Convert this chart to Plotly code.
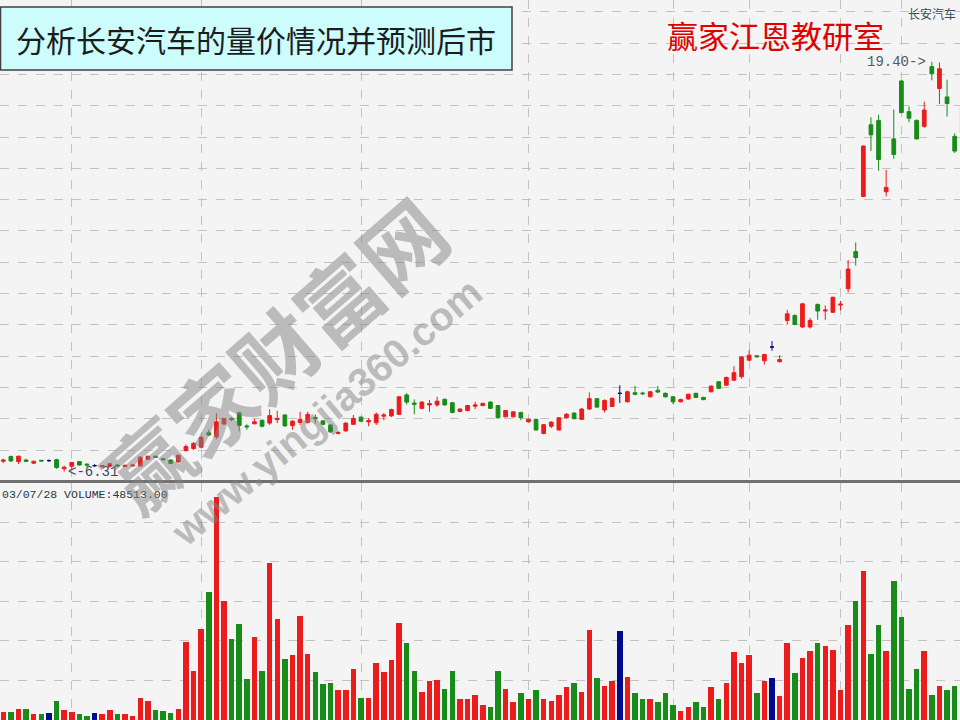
import plotly.graph_objects as go

# ---------------- data ----------------
opens = [6.64, 6.79, 6.63, 6.68, 6.58, 6.67, 6.66, 6.69, 6.40, 6.48,
         6.63, 6.55, 6.50, 6.47, 6.48, 6.52, 6.47, 6.49, 6.49, 6.70,
         6.80, 6.72, 6.68, 6.62, 6.98, 7.05, 7.09, 7.55, 7.42, 7.83,
         8.01, 8.19, 7.77, 7.84, 7.95, 7.86, 7.97, 8.12, 7.78, 7.88,
         7.88, 8.04, 7.93, 7.80, 7.53, 7.61, 7.82, 8.05, 7.90, 7.87,
         8.08, 8.09, 8.14, 8.76, 8.50, 8.33, 8.44, 8.44, 8.62, 8.51,
         8.23, 8.26, 8.40, 8.42, 8.53, 8.42, 8.06, 8.06, 8.20, 7.90,
         7.98, 7.53, 7.76, 7.64, 8.03, 8.18, 7.98, 8.31, 8.64, 8.28,
         8.39, 8.81, 8.54, 8.83, 8.82, 8.70, 8.91, 8.81, 8.70, 8.54,
         8.63, 8.81, 8.68, 8.86, 9.18, 9.07, 9.23, 9.34, 9.87, 10.01,
         9.85, 10.29, 9.82, 11.14, 11.30, 10.93, 10.93, 11.65, 11.44, 11.40,
         11.63, 12.15, 13.34, 15.10, 17.39, 17.53, 15.25, 16.94, 18.79, 17.81,
         17.53, 17.34, 19.25, 18.55, 18.28, 17.02, 17.13]
highs = [6.72, 6.82, 6.82, 6.72, 6.66, 6.68, 6.70, 6.72, 6.50, 6.62,
         6.65, 6.57, 6.55, 6.52, 6.58, 6.54, 6.53, 6.54, 6.80, 6.82,
         6.82, 6.74, 6.70, 6.85, 7.18, 7.26, 7.45, 7.65, 8.17, 8.03,
         8.05, 8.22, 7.82, 8.00, 7.97, 8.30, 8.25, 8.14, 7.95, 8.22,
         8.22, 8.13, 7.96, 7.83, 7.60, 7.88, 8.12, 8.07, 8.02, 8.20,
         8.18, 8.32, 8.72, 8.82, 8.62, 8.56, 8.60, 8.70, 8.64, 8.53,
         8.33, 8.44, 8.54, 8.51, 8.56, 8.44, 8.28, 8.24, 8.22, 8.00,
         8.00, 7.83, 7.92, 8.05, 8.18, 8.20, 8.33, 8.84, 8.66, 8.62,
         8.68, 9.07, 8.90, 9.05, 8.86, 8.88, 9.05, 8.84, 8.72, 8.64,
         8.80, 8.83, 8.70, 9.06, 9.20, 9.34, 9.68, 9.99, 10.19, 10.03,
         10.07, 10.48, 10.03, 11.48, 11.33, 11.70, 11.22, 11.68, 11.62, 11.90,
         11.76, 13.07, 13.63, 16.73, 17.63, 17.71, 15.95, 17.88, 18.81, 17.98,
         17.56, 18.13, 19.40, 19.38, 18.83, 17.12, 18.10]
lows = [6.58, 6.62, 6.55, 6.62, 6.56, 6.63, 6.62, 6.40, 6.31, 6.40,
        6.50, 6.45, 6.46, 6.44, 6.44, 6.47, 6.45, 6.47, 6.47, 6.68,
        6.75, 6.67, 6.55, 6.60, 6.95, 7.00, 7.05, 7.45, 7.35, 7.80,
        7.92, 7.60, 7.65, 7.82, 7.72, 7.80, 7.86, 7.74, 7.65, 7.80,
        7.85, 7.85, 7.79, 7.55, 7.50, 7.58, 7.80, 7.90, 7.76, 7.80,
        7.95, 8.05, 8.12, 8.45, 8.14, 8.30, 8.22, 8.38, 8.42, 8.17,
        8.21, 8.24, 8.31, 8.40, 8.31, 8.00, 8.04, 8.04, 7.95, 7.88,
        7.62, 7.50, 7.70, 7.62, 8.00, 7.98, 7.96, 8.28, 8.35, 8.20,
        8.37, 8.50, 8.52, 8.75, 8.75, 8.68, 8.83, 8.68, 8.47, 8.52,
        8.61, 8.66, 8.59, 8.84, 8.95, 9.05, 9.21, 9.28, 9.85, 9.96,
        9.73, 10.17, 9.80, 11.00, 10.99, 10.90, 10.88, 11.16, 11.16, 11.38,
        11.46, 12.04, 12.89, 15.08, 16.55, 15.92, 15.10, 16.30, 17.76, 17.47,
        16.92, 17.29, 18.81, 18.05, 17.65, 16.49, 17.05]
closes = [6.68, 6.65, 6.80, 6.64, 6.64, 6.65, 6.66, 6.44, 6.45, 6.60,
          6.52, 6.52, 6.50, 6.50, 6.56, 6.49, 6.51, 6.52, 6.77, 6.80,
          6.77, 6.69, 6.57, 6.83, 7.11, 7.21, 7.40, 7.48, 7.90, 8.00,
          7.97, 7.78, 7.74, 7.90, 7.76, 8.10, 8.01, 7.77, 7.92, 7.98,
          8.14, 8.00, 7.82, 7.58, 7.56, 7.86, 8.01, 7.92, 7.94, 8.14,
          8.12, 8.29, 8.70, 8.53, 8.46, 8.53, 8.48, 8.56, 8.44, 8.20,
          8.31, 8.42, 8.44, 8.49, 8.33, 8.03, 8.26, 8.22, 8.03, 7.98,
          7.64, 7.81, 7.89, 8.03, 8.14, 8.00, 8.31, 8.64, 8.37, 8.58,
          8.65, 8.81, 8.86, 8.78, 8.80, 8.86, 8.85, 8.70, 8.54, 8.61,
          8.78, 8.68, 8.61, 9.04, 8.97, 9.32, 9.47, 9.97, 10.03, 9.98,
          10.05, 10.29, 9.89, 11.35, 11.01, 11.67, 11.14, 11.44, 11.47, 11.88,
          11.66, 12.78, 13.15, 16.71, 17.07, 16.28, 15.39, 16.44, 17.78, 17.60,
          16.94, 17.86, 19.02, 19.18, 18.07, 16.55, 17.97]
# candle / volume colour class: r = up, g = down, b = flat
colors = list("rgrgrgbgrr" "ggbrrgrrrr" "gggrrrrgrr" "gggrgrrgrr"
              "rgggrrrgrr" "rrrggrrrgg" "rrrrggrrgr" "grrrrgrrgr"
              "rbrggrgggr" "rggrgrrrrg" "rbrrgrrgrr" "rrgrggrggg"
              "grgrggr")
volumes = [0.19, 0.19, 0.29, 0.29, 0.15, 0.14, 0.18, 0.49, 0.25, 0.19,
           0.15, 0.11, 0.18, 0.14, 0.25, 0.14, 0.14, 0.11, 0.56, 0.49,
           0.25, 0.22, 0.18, 0.29, 1.98, 1.24, 2.31, 3.24, 5.62, 3.01,
           2.05, 2.43, 1.03, 2.10, 1.24, 3.97, 2.56, 1.55, 1.63, 2.63,
           1.67, 1.21, 0.91, 0.94, 0.75, 0.75, 1.29, 0.56, 0.56, 1.44,
           1.20, 1.52, 2.44, 1.94, 1.25, 0.71, 0.98, 1.02, 0.79, 1.25,
           0.52, 0.52, 0.64, 0.37, 0.33, 1.25, 0.79, 0.45, 0.67, 0.52,
           0.75, 0.52, 0.49, 0.64, 0.83, 0.94, 0.71, 2.28, 1.07, 0.87,
           0.99, 2.24, 1.09, 0.67, 0.52, 0.52, 0.45, 0.67, 0.37, 0.22,
           0.33, 0.45, 0.33, 0.83, 0.52, 0.94, 1.71, 1.44, 1.63, 0.67,
           0.99, 1.07, 0.60, 1.94, 1.18, 1.56, 1.74, 1.94, 1.86, 1.78,
           0.75, 2.40, 3.00, 3.77, 1.67, 2.40, 1.74, 3.51, 2.60, 0.79,
           1.28, 1.74, 0.64, 0.87, 0.75, 0.87, 1.63]
month_starts = [9, 26, 47, 69, 88, 98, 110, 118]
title_text = "分析长安汽车的量价情况并预测后市"
brand_text = "赢家江恩教研室"
stock_name = "长安汽车"
volume_label = "03/07/28 VOLUME:48513.00"

# ---------------- styling ----------------
W, H = 960, 720
palette = {"r": "#ec1c1c", "g": "#188c18", "b": "#000a8c"}
bg = "#f4f4f4"
grid = "#c2c2c2"

x = list(range(len(opens)))
fig = go.Figure()

for key in ["r", "g", "b"]:
    idx = [i for i in x if colors[i] == key]
    c = palette[key]
    fig.add_trace(go.Candlestick(
        x=idx,
        open=[opens[i] for i in idx], high=[highs[i] for i in idx],
        low=[lows[i] for i in idx], close=[closes[i] for i in idx],
        increasing=dict(line=dict(color=c, width=1), fillcolor=c),
        decreasing=dict(line=dict(color=c, width=1), fillcolor=c),
        whiskerwidth=0, showlegend=False, xaxis="x", yaxis="y",
    ))

fig.add_trace(go.Bar(
    x=x, y=volumes, width=0.72,
    marker=dict(color=[palette[c] for c in colors], line=dict(width=0)),
    showlegend=False, xaxis="x2", yaxis="y2",
))

# pixel -> paper helpers (for non-data decorations only)
px = lambda v: v / W
py = lambda v: 1 - v / H

price_top_px, price_bot_px = 0, 480
vol_top_px = 483
ppu = 31.3          # px per price unit, 7.00 sits at pixel 450
y_top = 7 + (450 - price_top_px) / ppu
y_bot = 7 - (price_bot_px - 450) / ppu
vpu = 39.6          # px per volume unit
v_top = (H - vol_top_px) / vpu

x_range = [-0.43, 125.7]
xcommon = dict(range=x_range, tickmode="array", tickvals=month_starts,
               showticklabels=False, ticks="", showgrid=True, gridcolor=grid,
               griddash="dash", gridwidth=1, zeroline=False)
ycommon = dict(showticklabels=False, ticks="", showgrid=True, gridcolor=grid,
               griddash="dash", gridwidth=1, zeroline=False, dtick=1, tick0=0)

fig.update_layout(
    width=W, height=H, margin=dict(l=0, r=0, t=0, b=0),
    paper_bgcolor=bg, plot_bgcolor=bg, boxgap=0.3, bargap=0,
    xaxis=dict(**xcommon, domain=[0, 1], anchor="y",
               rangeslider=dict(visible=False),
               showline=True, linecolor="#707070", linewidth=3),
    yaxis=dict(**ycommon, domain=[py(price_bot_px), 1], range=[y_bot, y_top]),
    xaxis2=dict(**xcommon, domain=[0, 1], anchor="y2", matches="x"),
    yaxis2=dict(**ycommon, domain=[0, py(vol_top_px)], range=[0, v_top]),
    font=dict(family="Noto Sans CJK SC"),
)

# high / low markers derived from data
ih = max(x, key=lambda i: highs[i])
il = min(x, key=lambda i: lows[i])
ann = [
    dict(x=ih - 0.45, y=highs[ih], xref="x", yref="y", text=f"{highs[ih]:.2f}->",
         showarrow=False, xanchor="right", yanchor="middle",
         font=dict(family="Liberation Mono", size=14, color="#505a66")),
    dict(x=il + 0.2, y=lows[il], xref="x", yref="y", text=f"<-{lows[il]:.2f}",
         showarrow=False, xanchor="left", yanchor="middle",
         font=dict(family="Liberation Mono", size=14, color="#3a4a5c")),
    dict(x=px(0), y=py(494), xref="paper", yref="paper", text=volume_label,
         showarrow=False, xanchor="left", yanchor="middle",
         font=dict(family="Liberation Mono", size=11.5, color="#2a3440")),
    dict(x=px(906), y=py(13), xref="paper", yref="paper", text=stock_name,
         showarrow=False, xanchor="left", yanchor="middle",
         font=dict(family="Noto Sans CJK SC", size=12, color="#3a4a5c")),
    dict(x=px(256), y=py(39), xref="paper", yref="paper", text=title_text,
         showarrow=False, xanchor="center", yanchor="middle",
         font=dict(family="Noto Sans CJK SC", size=30, color="#1c1c1c")),
    dict(x=px(775), y=py(34), xref="paper", yref="paper", text=brand_text,
         showarrow=False, xanchor="center", yanchor="middle",
         font=dict(family="Noto Sans CJK SC", size=31, color="#e00000")),
    # watermark
    dict(x=px(273), y=py(352), xref="paper", yref="paper", text="<b>赢家财富网</b>",
         showarrow=False, textangle=-41, xanchor="center", yanchor="middle",
         font=dict(family="Noto Sans CJK SC", size=84, color="rgba(130,130,130,0.5)")),
    dict(x=px(326), y=py(412), xref="paper", yref="paper", text="<b>www.yingjia360.com</b>",
         showarrow=False, textangle=-40, xanchor="center", yanchor="middle",
         font=dict(family="Liberation Sans", size=40, color="rgba(130,130,130,0.5)")),
]
fig.update_layout(annotations=ann)
fig.add_shape(type="rect", xref="paper", yref="paper",
              x0=px(0.5), x1=px(512), y0=py(7), y1=py(70),
              fillcolor="#ccfcfc", line=dict(color="#404040", width=1.5), layer="above")

fig.write_html("out.html", config={"displayModeBar": False},
               post_script="document.body.style.margin='0';")
